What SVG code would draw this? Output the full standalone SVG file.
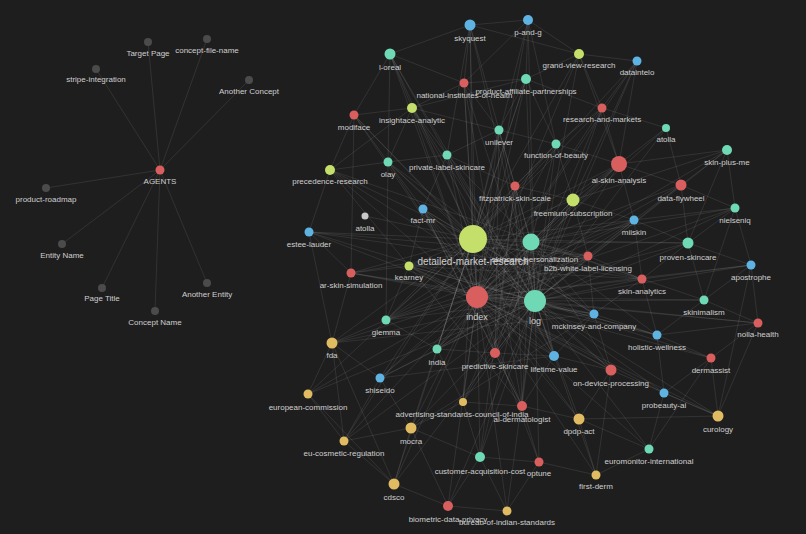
<svg xmlns="http://www.w3.org/2000/svg" width="806" height="534" viewBox="0 0 806 534">
<style>
.e{stroke:#c8c8c8;stroke-opacity:0.17;stroke-width:0.7;fill:none}
.lb{font-family:"Liberation Sans",Arial,sans-serif;font-size:8px;fill:#cfcfcf;text-anchor:middle}
.R{fill:#d95f5f}.T{fill:#6fd9b5}.B{fill:#5fb3e3}.L{fill:#c4e06a}.G{fill:#e0bb62}.K{fill:#4b4b4b}.W{fill:#c8c8c8}
</style>
<rect width="806" height="534" fill="#1e1e1e"/>
<g id="connectors">
<path class="e" d="M160 170L148 42M160 170L207 39M160 170L96 69M160 170L249 80M160 170L46 188M160 170L62 244M160 170L102 288M160 170L207 283M160 170L155 311"/>
<path class="e" d="M477 297L470 25M477 297L528 20M477 297L390 54M477 297L579 54M477 297L637 61M477 297L526 79M477 297L464 83M477 297L602 108M477 297L412 108M477 297L354 115M477 297L666 128M477 297L499 130M477 297L556 144M477 297L727 150M477 297L447 155M477 297L388 162M477 297L619 164M477 297L330 170M477 297L515 186M477 297L681 185M477 297L573 200M477 297L735 208M477 297L423 209M477 297L634 220M477 297L309 232M477 297L473 239M477 297L531 242M477 297L688 243M477 297L588 256M477 297L751 265M477 297L409 266M477 297L351 273M477 297L642 279M477 297L535 301M477 297L704 300M477 297L594 314M477 297L386 320M477 297L758 323M477 297L657 335M477 297L332 343M477 297L437 349M477 297L495 353M477 297L554 356M477 297L711 358M477 297L611 370M477 297L380 378M477 297L664 393M477 297L308 394M477 297L463 402M477 297L522 406M477 297L718 416M477 297L579 419M477 297L411 428M477 297L344 441M477 297L649 449M477 297L480 457M477 297L539 462M477 297L596 475M477 297L394 484M477 297L448 506M477 297L507 511"/>
<path class="e" d="M535 301L470 25M535 301L528 20M535 301L390 54M535 301L579 54M535 301L637 61M535 301L526 79M535 301L464 83M535 301L602 108M535 301L412 108M535 301L354 115M535 301L666 128M535 301L499 130M535 301L556 144M535 301L727 150M535 301L447 155M535 301L388 162M535 301L619 164M535 301L330 170M535 301L515 186M535 301L681 185M535 301L573 200M535 301L735 208M535 301L423 209M535 301L634 220M535 301L309 232M535 301L473 239M535 301L531 242M535 301L688 243M535 301L588 256M535 301L751 265M535 301L409 266M535 301L351 273M535 301L642 279M535 301L704 300M535 301L594 314M535 301L386 320M535 301L758 323M535 301L657 335M535 301L332 343M535 301L437 349M535 301L495 353M535 301L554 356M535 301L711 358M535 301L611 370M535 301L380 378M535 301L664 393M535 301L308 394M535 301L463 402M535 301L522 406M535 301L718 416M535 301L579 419M535 301L411 428M535 301L344 441M535 301L649 449M535 301L480 457M535 301L539 462M535 301L596 475M535 301L394 484M535 301L448 506M535 301L507 511"/>
<path class="e" d="M473 239L470 25M473 239L528 20M473 239L390 54M473 239L579 54M473 239L637 61M473 239L526 79M473 239L464 83M473 239L602 108M473 239L412 108M473 239L354 115M473 239L499 130M473 239L556 144M473 239L447 155M473 239L388 162M473 239L619 164M473 239L330 170M473 239L515 186M473 239L573 200M473 239L423 209M473 239L365 216M473 239L634 220M473 239L309 232M473 239L531 242M473 239L688 243M473 239L588 256M473 239L409 266M473 239L351 273M473 239L642 279M473 239L594 314M473 239L386 320M473 239L332 343M473 239L437 349M473 239L380 378M473 239L308 394M473 239L463 402M473 239L411 428M473 239L344 441M473 239L394 484"/>
<path class="e" d="M531 242L619 164M531 242L573 200M531 242L515 186M531 242L688 243M531 242L588 256M531 242L642 279M531 242L634 220M531 242L681 185M531 242L495 353M531 242L554 356M531 242L611 370M531 242L522 406M531 242L447 155M531 242L499 130M531 242L556 144M531 242L657 335M531 242L594 314M531 242L735 208"/>
<path class="e" d="M390 54L470 25M390 54L354 115M390 54L412 108M390 54L388 162M390 54L447 155M390 54L464 83M470 25L528 20M470 25L579 54M470 25L464 83M470 25L499 130M470 25L447 155M528 20L579 54M528 20L526 79M528 20L464 83M528 20L556 144M579 54L637 61M579 54L602 108M579 54L526 79M579 54L619 164M637 61L602 108M637 61L619 164M637 61L573 200M602 108L666 128M602 108L526 79M602 108L619 164M602 108L556 144M666 128L619 164M666 128L681 185M727 150L619 164M727 150L735 208M727 150L688 243M727 150L681 185M727 150L573 200M735 208L681 185M735 208L751 265M735 208L634 220M735 208L688 243M735 208L704 300M681 185L619 164M681 185L634 220M681 185L688 243M688 243L751 265M688 243L642 279M688 243L704 300M688 243L634 220M751 265L758 323M751 265L642 279M751 265L704 300M751 265L718 416M704 300L758 323M704 300L657 335M704 300L642 279M758 323L711 358M758 323L718 416M758 323L657 335M657 335L711 358M657 335L664 393M711 358L718 416M711 358L664 393M711 358L649 449M664 393L718 416M664 393L649 449M718 416L579 419M718 416L611 370M649 449L596 475M649 449L579 419M596 475L579 419M596 475L539 462M596 475L611 370M579 419L611 370M579 419L522 406M539 462L522 406M539 462L480 457M539 462L507 511M480 457L507 511M480 457L448 506M480 457L463 402M480 457L411 428M448 506L394 484M448 506L507 511M448 506L411 428M394 484L411 428M394 484L344 441M394 484L308 394M394 484L332 343M411 428L344 441M411 428L463 402M411 428L380 378M344 441L308 394M344 441L332 343M344 441L380 378M308 394L332 343M332 343L380 378M332 343L386 320M332 343L309 232M332 343L351 273M380 378L437 349M437 349L386 320M437 349L495 353M437 349L463 402M495 353L554 356M495 353L522 406M554 356L611 370M554 356L522 406M463 402L522 406M386 320L409 266M386 320L388 162M351 273L354 115M351 273L309 232M351 273L409 266M309 232L330 170M330 170L354 115M330 170L412 108M330 170L388 162M330 170L409 266M354 115L412 108M354 115L388 162M412 108L388 162M412 108L464 83M412 108L499 130M412 108L447 155M412 108L526 79M464 83L526 79M464 83L499 130M526 79L499 130M526 79L556 144M499 130L556 144M499 130L447 155M499 130L515 186M556 144L619 164M556 144L515 186M556 144L573 200M447 155L423 209M447 155L515 186M388 162L423 209M388 162L447 155M619 164L573 200M619 164L634 220M573 200L634 220M573 200L588 256M515 186L573 200M634 220L588 256M634 220L642 279M588 256L642 279M588 256L594 314M642 279L594 314M642 279L657 335M594 314L657 335M594 314L611 370M594 314L554 356M409 266L423 209"/>
<path class="e" d="M309 232L642 279M309 232L588 256M351 273L594 314M351 273L531 242M409 266L588 256M409 266L642 279M423 209L594 314M423 209L554 356M386 320L531 242M386 320L588 256M437 349L573 200M437 349L634 220M495 353L515 186M495 353L423 209M463 402L573 200M463 402L531 242M380 378L531 242M380 378L554 356M332 343L594 314M411 428L594 314M480 457L515 186M480 457L531 242M522 406L423 209M522 406L409 266M554 356L409 266M611 370L409 266M611 370L423 209M657 335L409 266M447 155L554 356M499 130L495 353M515 186L522 406M388 162L594 314M330 170L642 279M412 108L554 356M464 83L522 406M526 79L437 349M556 144L386 320M619 164L437 349M619 164L386 320M602 108L495 353M634 220L386 320M588 256L437 349M579 419L423 209"/>
</g>
<g id="n-target-page"><circle class="K" cx="148" cy="42" r="4"/><text class="lb" x="148" y="55.6">Target Page</text></g>
<g id="n-concept-file-name"><circle class="K" cx="207" cy="39" r="4"/><text class="lb" x="207" y="53.2">concept-file-name</text></g>
<g id="n-stripe-integration"><circle class="K" cx="96" cy="69" r="4"/><text class="lb" x="96" y="82.2">stripe-integration</text></g>
<g id="n-another-concept"><circle class="K" cx="249" cy="80" r="4"/><text class="lb" x="249" y="93.6">Another Concept</text></g>
<g id="n-agents"><circle class="R" cx="160" cy="170" r="4.5"/><text class="lb" x="160" y="184">AGENTS</text></g>
<g id="n-product-roadmap"><circle class="K" cx="46" cy="188" r="4"/><text class="lb" x="46" y="202.2">product-roadmap</text></g>
<g id="n-entity-name"><circle class="K" cx="62" cy="244" r="4"/><text class="lb" x="62" y="258.2">Entity Name</text></g>
<g id="n-page-title"><circle class="K" cx="102" cy="288" r="4"/><text class="lb" x="102" y="301.2">Page Title</text></g>
<g id="n-another-entity"><circle class="K" cx="207" cy="283" r="4"/><text class="lb" x="207" y="297.2">Another Entity</text></g>
<g id="n-concept-name"><circle class="K" cx="155" cy="311" r="4"/><text class="lb" x="155" y="324.6">Concept Name</text></g>

<g id="n-skyquest"><circle class="B" cx="470" cy="25" r="5.5"/><text class="lb" x="470" y="40.7">skyquest</text></g>
<g id="n-p-and-g"><circle class="B" cx="528" cy="20" r="5"/><text class="lb" x="528" y="35.4">p-and-g</text></g>
<g id="n-l-oreal"><circle class="T" cx="390" cy="54" r="5.5"/><text class="lb" x="390" y="69.9">l-oreal</text></g>
<g id="n-grand-view-research"><circle class="L" cx="579" cy="54" r="5"/><text class="lb" x="579" y="68.4">grand-view-research</text></g>
<g id="n-dataintelo"><circle class="B" cx="637" cy="61" r="4.5"/><text class="lb" x="637" y="75">dataintelo</text></g>
<g id="n-product-affiliate-partnerships"><circle class="T" cx="526" cy="79" r="5"/><text class="lb" x="526" y="93.6">product-affiliate-partnerships</text></g>
<g id="n-national-institutes-of-health"><circle class="R" cx="464" cy="83" r="4.5"/><text class="lb" x="464.5" y="97.9">national-institutes-of-health</text></g>
<g id="n-research-and-markets"><circle class="R" cx="602" cy="108" r="4.5"/><text class="lb" x="602" y="121.9">research-and-markets</text></g>
<g id="n-insightace-analytic"><circle class="L" cx="412" cy="108" r="5"/><text class="lb" x="412" y="122.9">insightace-analytic</text></g>
<g id="n-modiface"><circle class="R" cx="354" cy="115" r="4.5"/><text class="lb" x="354" y="129.9">modiface</text></g>
<g id="n-atolla"><circle class="T" cx="666" cy="128" r="4"/><text class="lb" x="666" y="142.4">atolla</text></g>
<g id="n-unilever"><circle class="T" cx="499" cy="130" r="4.5"/><text class="lb" x="499" y="144.9">unilever</text></g>
<g id="n-function-of-beauty"><circle class="T" cx="556" cy="144" r="4.5"/><text class="lb" x="556" y="157.9">function-of-beauty</text></g>
<g id="n-skin-plus-me"><circle class="T" cx="727" cy="150" r="5"/><text class="lb" x="727" y="164.9">skin-plus-me</text></g>
<g id="n-private-label-skincare"><circle class="T" cx="447" cy="155" r="4.5"/><text class="lb" x="447" y="169.9">private-label-skincare</text></g>
<g id="n-olay"><circle class="T" cx="388" cy="162" r="4.5"/><text class="lb" x="388" y="176.9">olay</text></g>
<g id="n-ai-skin-analysis"><circle class="R" cx="619" cy="164" r="8"/><text class="lb" x="619" y="183">ai-skin-analysis</text></g>
<g id="n-precedence-research"><circle class="L" cx="330" cy="170" r="5"/><text class="lb" x="330" y="184.4">precedence-research</text></g>
<g id="n-fitzpatrick-skin-scale"><circle class="R" cx="515" cy="186" r="4.5"/><text class="lb" x="515" y="200.9">fitzpatrick-skin-scale</text></g>
<g id="n-data-flywheel"><circle class="R" cx="681" cy="185" r="5.5"/><text class="lb" x="681" y="200.9">data-flywheel</text></g>
<g id="n-freemium-subscription"><circle class="L" cx="573" cy="200" r="6.5"/><text class="lb" x="573" y="216.2">freemium-subscription</text></g>
<g id="n-nielseniq"><circle class="T" cx="735" cy="208" r="4.5"/><text class="lb" x="735" y="222.9">nielseniq</text></g>
<g id="n-fact-mr"><circle class="B" cx="423" cy="209" r="4.5"/><text class="lb" x="423" y="223.2">fact-mr</text></g>
<g id="n-atolla-2"><circle class="W" cx="365" cy="216" r="3.5"/><text class="lb" x="365" y="230.6">atolla</text></g>
<g id="n-miiskin"><circle class="B" cx="634" cy="220" r="4.5"/><text class="lb" x="634" y="235">miiskin</text></g>
<g id="n-estee-lauder"><circle class="B" cx="309" cy="232" r="4.5"/><text class="lb" x="309" y="246.9">estee-lauder</text></g>
<g id="n-detailed-market-research"><circle class="L" cx="473" cy="239" r="14"/><text class="lb" x="473" y="264.6" style="font-size:10px">detailed-market-research</text></g>
<g id="n-skincare-personalization"><circle class="T" cx="531" cy="242" r="8.5"/><text class="lb" x="535" y="262">skincare-personalization</text></g>
<g id="n-proven-skincare"><circle class="T" cx="688" cy="243" r="5.5"/><text class="lb" x="688" y="259.9">proven-skincare</text></g>
<g id="n-b2b-white-label-licensing"><circle class="R" cx="588" cy="256" r="4.5"/><text class="lb" x="588" y="271.2">b2b-white-label-licensing</text></g>
<g id="n-apostrophe"><circle class="B" cx="751" cy="265" r="4.5"/><text class="lb" x="751" y="279.6">apostrophe</text></g>
<g id="n-kearney"><circle class="L" cx="409" cy="266" r="4.5"/><text class="lb" x="409" y="280.2">kearney</text></g>
<g id="n-ar-skin-simulation"><circle class="R" cx="351" cy="273" r="4.5"/><text class="lb" x="351" y="288.2">ar-skin-simulation</text></g>
<g id="n-skin-analytics"><circle class="R" cx="642" cy="279" r="4.5"/><text class="lb" x="642" y="293.6">skin-analytics</text></g>
<g id="n-index"><circle class="R" cx="477" cy="297" r="11"/><text class="lb" x="477" y="320" style="font-size:9px">index</text></g>
<g id="n-log"><circle class="T" cx="535" cy="301" r="11"/><text class="lb" x="535" y="323.6" style="font-size:9px">log</text></g>
<g id="n-skinimalism"><circle class="T" cx="704" cy="300" r="4.5"/><text class="lb" x="704" y="314.6">skinimalism</text></g>
<g id="n-mckinsey-and-company"><circle class="B" cx="594" cy="314" r="4.5"/><text class="lb" x="594" y="328.9">mckinsey-and-company</text></g>
<g id="n-glemma"><circle class="T" cx="386" cy="320" r="4.5"/><text class="lb" x="386" y="334.9">glemma</text></g>
<g id="n-nolla-health"><circle class="R" cx="758" cy="323" r="4.5"/><text class="lb" x="758" y="337.2">nolla-health</text></g>
<g id="n-holistic-wellness"><circle class="B" cx="657" cy="335" r="4.5"/><text class="lb" x="657" y="349.6">holistic-wellness</text></g>
<g id="n-fda"><circle class="G" cx="332" cy="343" r="5.5"/><text class="lb" x="332" y="357.9">fda</text></g>
<g id="n-india"><circle class="T" cx="437" cy="349" r="4.5"/><text class="lb" x="437" y="364.9">india</text></g>
<g id="n-predictive-skincare"><circle class="R" cx="495" cy="353" r="5"/><text class="lb" x="495" y="368.9">predictive-skincare</text></g>
<g id="n-lifetime-value"><circle class="B" cx="554" cy="356" r="5"/><text class="lb" x="554" y="372.2">lifetime-value</text></g>
<g id="n-dermassist"><circle class="R" cx="711" cy="358" r="4.5"/><text class="lb" x="711" y="372.6">dermassist</text></g>
<g id="n-on-device-processing"><circle class="R" cx="611" cy="370" r="5.5"/><text class="lb" x="611" y="386.2">on-device-processing</text></g>
<g id="n-shiseido"><circle class="B" cx="380" cy="378" r="4.5"/><text class="lb" x="380" y="392.9">shiseido</text></g>
<g id="n-probeauty-ai"><circle class="B" cx="664" cy="393" r="4.5"/><text class="lb" x="664" y="407.6">probeauty-ai</text></g>
<g id="n-european-commission"><circle class="G" cx="308" cy="394" r="4.5"/><text class="lb" x="308" y="409.6">european-commission</text></g>
<g id="n-advertising-standards-council-of-india"><circle class="G" cx="463" cy="402" r="4"/><text class="lb" x="462" y="416.6">advertising-standards-council-of-india</text></g>
<g id="n-ai-dermatologist"><circle class="R" cx="522" cy="406" r="5"/><text class="lb" x="522" y="421.6">ai-dermatologist</text></g>
<g id="n-curology"><circle class="G" cx="718" cy="416" r="5.5"/><text class="lb" x="718" y="431.9">curology</text></g>
<g id="n-dpdp-act"><circle class="G" cx="579" cy="419" r="5.5"/><text class="lb" x="579" y="433.6">dpdp-act</text></g>
<g id="n-mocra"><circle class="G" cx="411" cy="428" r="5.5"/><text class="lb" x="411" y="443.6">mocra</text></g>
<g id="n-eu-cosmetic-regulation"><circle class="G" cx="344" cy="441" r="4.5"/><text class="lb" x="344" y="455.9">eu-cosmetic-regulation</text></g>
<g id="n-euromonitor-international"><circle class="T" cx="649" cy="449" r="4.5"/><text class="lb" x="649" y="463.9">euromonitor-international</text></g>
<g id="n-customer-acquisition-cost"><circle class="T" cx="480" cy="457" r="5"/><text class="lb" x="480" y="473.6">customer-acquisition-cost</text></g>
<g id="n-optune"><circle class="R" cx="539" cy="462" r="4.5"/><text class="lb" x="539" y="476.2">optune</text></g>
<g id="n-first-derm"><circle class="G" cx="596" cy="475" r="4.5"/><text class="lb" x="596" y="489.2">first-derm</text></g>
<g id="n-cdsco"><circle class="G" cx="394" cy="484" r="5.5"/><text class="lb" x="394" y="499.9">cdsco</text></g>
<g id="n-biometric-data-privacy"><circle class="R" cx="448" cy="506" r="5"/><text class="lb" x="448" y="521.6">biometric-data-privacy</text></g>
<g id="n-bureau-of-indian-standards"><circle class="G" cx="507" cy="511" r="4.5"/><text class="lb" x="507" y="524.9">bureau-of-indian-standards</text></g>
</svg>
